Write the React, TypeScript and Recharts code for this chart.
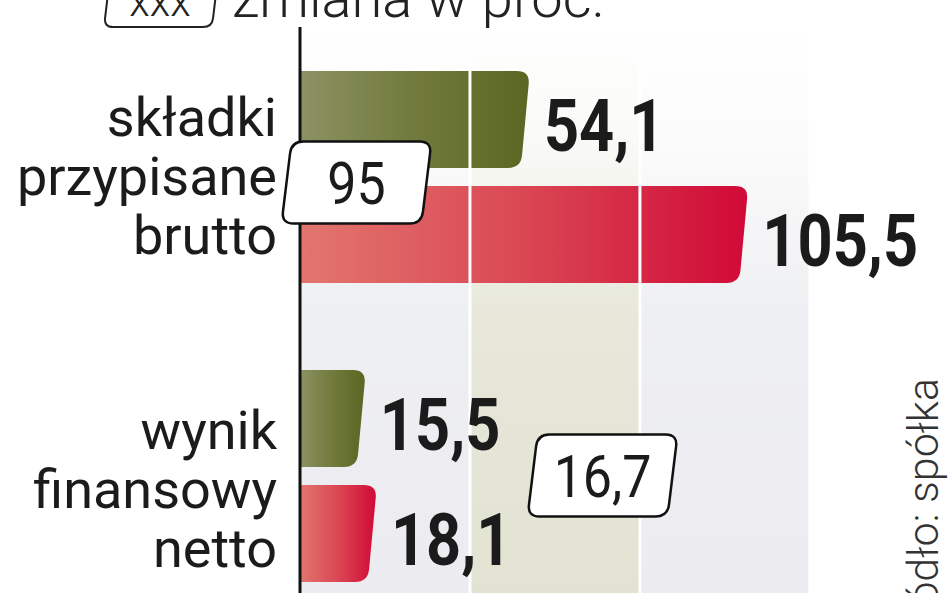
import React from "react";
import {
  BarChart,
  Bar,
  XAxis,
  YAxis,
  ReferenceArea,
  ReferenceLine,
  ReferenceDot,
  LabelList,
} from "recharts";

// ---------- data ----------
const categories = ["składki przypisane brutto", "wynik finansowy netto"];
const categoryLines = [
  ["składki", "przypisane", "brutto"],
  ["wynik", "finansowy", "netto"],
];
const previousValues = [54.1, 15.5];
const currentValues = [105.5, 18.1];
const changeLabels = ["95", "16,7"];
const gridValues = [0, 40, 80, 120];
const headerBadgeText = "xxx";
const headerText = "zmiana w proc.";
const sourceText = "źródło: spółka";

const data = categories.map((name, i) => ({
  name,
  previous: previousValues[i],
  current: currentValues[i],
}));

// ---------- style constants ----------
const W = 948;
const H = 593;
const BADGE_X = [13.3, 71.2]; // badge centres in value units
const BADGE_DY = [6, 0];
const TICK_SHIFT = [-41, -27];
const TEXT = "#1b1b1b";

const fmt = (v: number) => v.toFixed(1).replace(".", ",");

function roundedPath(pts: [number, number][], radii: number[]) {
  let d = "";
  const n = pts.length;
  for (let i = 0; i < n; i++) {
    const p = pts[i];
    const prev = pts[(i - 1 + n) % n];
    const next = pts[(i + 1) % n];
    const r = radii[i];
    const v1x = prev[0] - p[0], v1y = prev[1] - p[1];
    const l1 = Math.hypot(v1x, v1y) || 1;
    const v2x = next[0] - p[0], v2y = next[1] - p[1];
    const l2 = Math.hypot(v2x, v2y) || 1;
    const ax = p[0] + (v1x / l1) * r, ay = p[1] + (v1y / l1) * r;
    const bx = p[0] + (v2x / l2) * r, by = p[1] + (v2y / l2) * r;
    d += (i === 0 ? `M${ax},${ay}` : ` L${ax},${ay}`) + ` Q${p[0]},${p[1]} ${bx},${by}`;
  }
  return d + " Z";
}

const BarShape = (props: any) => {
  const { x, y, width, height, fill } = props;
  if (!width || width <= 0) return null;
  const s = Math.min(9, width * 0.3);
  const r = Math.min(13, width * 0.4);
  const d = roundedPath(
    [
      [x, y],
      [x + width, y],
      [x + width - s, y + height],
      [x, y + height],
    ],
    [0, r, r, 0]
  );
  return <path d={d} fill={fill} />;
};

const ValueLabel = (props: any) => {
  const { x, y, width, height, value } = props;
  const tx = x + width + 14;
  const ty = y + height / 2 + 31;
  return (
    <text
      transform={`translate(${tx},${ty}) scale(0.84,1)`}
      x={0}
      y={0}
      fontFamily="Roboto, sans-serif"
      fontWeight={700}
      fontSize={73}
      fill={TEXT}
    >
      {fmt(Number(value))}
    </text>
  );
};

const CategoryTick = (props: any) => {
  const { x, y, index } = props;
  const lines = categoryLines[index] || [];
  const base = y + (TICK_SHIFT[index] ?? -34);
  return (
    <g>
      {lines.map((l, i) => (
        <text
          key={i}
          x={x}
          y={base + i * 59}
          textAnchor="end"
          fontFamily="Roboto, sans-serif"
          fontSize={54}
          fill={TEXT}
        >
          {l}
        </text>
      ))}
    </g>
  );
};

const makeBadge = (i: number) => (props: any) => {
  const { cx, cy } = props;
  const w = 140;
  const h = 82;
  const s = 10;
  const c = cy + BADGE_DY[i];
  const d = roundedPath(
    [
      [cx - w / 2 + s / 2, c - h / 2],
      [cx + w / 2 + s / 2, c - h / 2],
      [cx + w / 2 - s / 2, c + h / 2],
      [cx - w / 2 - s / 2, c + h / 2],
    ],
    [12, 12, 12, 12]
  );
  return (
    <g>
      <path d={d} fill="#ffffff" stroke="#111" strokeWidth={2.5} />
      <text
        transform={`translate(${cx},${c + 21}) scale(0.88,1)`}
        x={0}
        y={0}
        textAnchor="middle"
        fontFamily="Roboto, sans-serif"
        fontSize={59}
        fill={TEXT}
      >
        {changeLabels[i]}
      </text>
    </g>
  );
};

const bands = [
  { from: gridValues[0], to: gridValues[1], fill: "url(#bandGray)" },
  { from: gridValues[1], to: gridValues[2], fill: "url(#bandBeige)" },
  { from: gridValues[2], to: gridValues[3], fill: "url(#bandGray)" },
];

export default function App() {
  const headerBadge = roundedPath(
    [
      [112, -40],
      [220, -40],
      [212, 27],
      [104, 27],
    ],
    [8, 8, 9, 9]
  );
  return (
    <div
      style={{
        position: "absolute",
        left: 0,
        top: 0,
        width: W,
        height: H,
        overflow: "hidden",
        background: "#ffffff",
      }}
    >
      <svg width={0} height={0} style={{ position: "absolute" }}>
        <defs>
          <linearGradient id="gGreen" x1="0" y1="0" x2="1" y2="0">
            <stop offset="0" stopColor="#8c9263" />
            <stop offset="0.5" stopColor="#717a3c" />
            <stop offset="1" stopColor="#5a6622" />
          </linearGradient>
          <linearGradient id="gRed" x1="0" y1="0" x2="1" y2="0">
            <stop offset="0" stopColor="#e2766f" />
            <stop offset="0.5" stopColor="#da4753" />
            <stop offset="1" stopColor="#d10a37" />
          </linearGradient>
          <linearGradient id="bandGray" x1="0" y1="0" x2="0" y2="1">
            <stop offset="0" stopColor="#ffffff" />
            <stop offset="0.2" stopColor="#fbfbfb" />
            <stop offset="0.48" stopColor="#eeeff2" />
            <stop offset="1" stopColor="#ececf0" />
          </linearGradient>
          <linearGradient id="bandBeige" x1="0" y1="0" x2="0" y2="1">
            <stop offset="0" stopColor="#ffffff" />
            <stop offset="0.2" stopColor="#f9f9f6" />
            <stop offset="0.48" stopColor="#e7e8da" />
            <stop offset="1" stopColor="#e1e2d1" />
          </linearGradient>
        </defs>
      </svg>

      <BarChart
        width={W}
        height={625}
        data={data}
        layout="vertical"
        margin={{ top: 27, right: 0, left: 0, bottom: 0 }}
        barSize={97}
        barGap={18}
      >
        <XAxis type="number" domain={[0, 152.5]} hide allowDataOverflow />
        <YAxis
          type="category"
          dataKey="name"
          width={300}
          tickLine={false}
          tickSize={0}
          tickMargin={23}
          axisLine={{ stroke: "#111", strokeWidth: 3 }}
          tick={<CategoryTick />}
          interval={0}
        />
        {bands.map((b, i) => (
          <ReferenceArea
            key={`band-${i}`}
            x1={b.from}
            x2={b.to}
            fill={b.fill}
            fillOpacity={1}
            stroke="none"
            ifOverflow="extendDomain"
          />
        ))}
        <Bar
          dataKey="previous"
          name="okres poprzedni"
          fill="url(#gGreen)"
          shape={<BarShape />}
          isAnimationActive={false}
        >
          <LabelList dataKey="previous" content={<ValueLabel />} />
        </Bar>
        <Bar
          dataKey="current"
          name="okres bieżący"
          fill="url(#gRed)"
          shape={<BarShape />}
          isAnimationActive={false}
        >
          <LabelList dataKey="current" content={<ValueLabel />} />
        </Bar>
        {gridValues.slice(1).map((g) => (
          <ReferenceLine key={`grid-${g}`} x={g} stroke="#ffffff" strokeWidth={3} />
        ))}
        {categories.map((c, i) => (
          <ReferenceDot
            key={`badge-${i}`}
            x={BADGE_X[i]}
            y={c}
            r={1}
            shape={makeBadge(i)}
            ifOverflow="visible"
          />
        ))}
      </BarChart>

      <svg
        width={W}
        height={H}
        style={{ position: "absolute", left: 0, top: 0, pointerEvents: "none" }}
      >
        <path d={headerBadge} fill="#ffffff" stroke="#222" strokeWidth={2} />
        <text
          x={160}
          y={16}
          textAnchor="middle"
          fontFamily="Roboto, sans-serif"
          fontWeight={300}
          fontSize={42}
          fill="#222"
        >
          {headerBadgeText}
        </text>
        <text
          x={232}
          y={17}
          fontFamily="Roboto, sans-serif"
          fontWeight={300}
          fontSize={56}
          fill="#222"
        >
          {headerText}
        </text>
        <text
          transform="translate(938,378) rotate(-90)"
          x={0}
          y={0}
          textAnchor="end"
          fontFamily="Roboto, sans-serif"
          fontWeight={300}
          fontSize={43}
          fill="#333"
        >
          {sourceText}
        </text>
      </svg>
    </div>
  );
}
